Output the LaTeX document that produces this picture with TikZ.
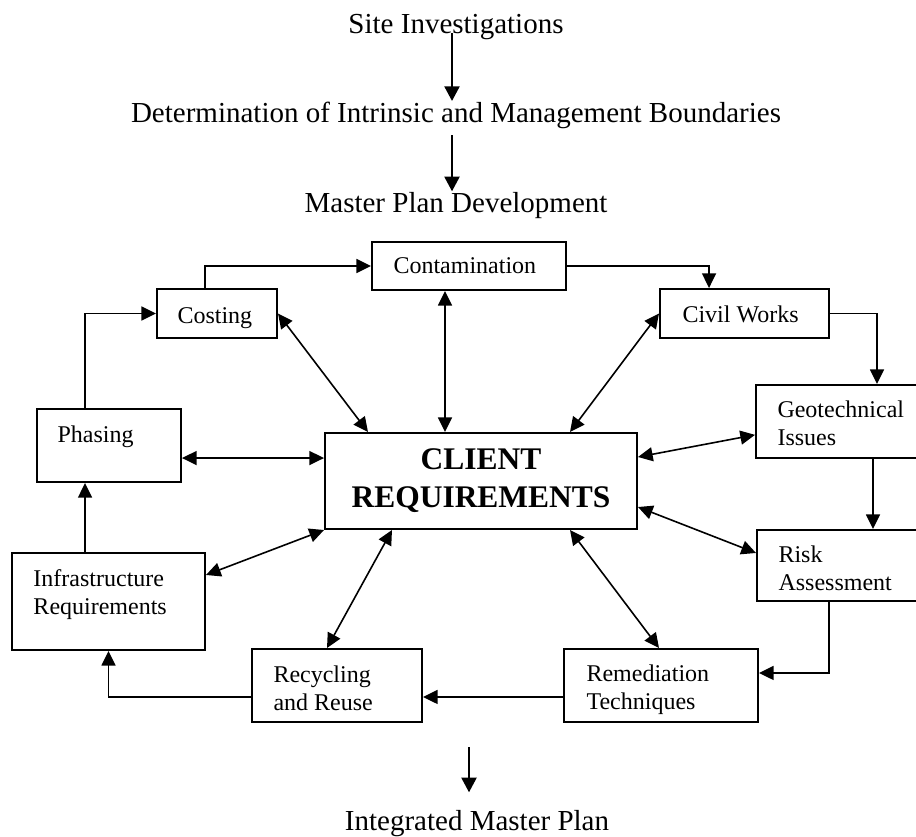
\documentclass[tikz,border=0pt]{standalone}
\usepackage{fontspec}
\setmainfont{Liberation Serif}
\usetikzlibrary{arrows.meta}

\tikzset{every picture/.style={line width=0.75pt}}
\tikzset{
  box/.style={draw, rectangle, line width=1.5pt, inner sep=0pt},
  boxtext/.style={inner sep=0pt, align=left, anchor=base west, font=\fontsize{18pt}{20.6pt}\selectfont},
  headtext/.style={inner sep=0pt, anchor=base, font=\fontsize{21.75pt}{26pt}\selectfont},
  flow/.style={line width=1.2pt, -{Triangle[length=11pt,width=10.5pt]}},
  link/.style={line width=1.2pt, {Triangle[length=11pt,width=10.5pt]}-{Triangle[length=11pt,width=10.5pt]}},
  bigarrow/.style={line width=2.2pt, -{Triangle[length=11pt,width=11pt]}},
}

\begin{document}
\begin{tikzpicture}[x=0.75pt,y=0.75pt,yscale=-1,xscale=1]
\useasboundingbox (0,0) rectangle (916,836);

% Text Node
\node[headtext] (site) at (456,33) {Site Investigations};
% Text Node
\node[headtext] (bound) at (456,122) {Determination of Intrinsic and Management Boundaries};
% Text Node
\node[headtext] (master) at (456,212) {Master Plan Development};
% Text Node
\node[headtext] (integ) at (477,830) {Integrated Master Plan};
\coordinate (outlet) at (469,747);

%Shape: Rectangle
\node[box, minimum width=90pt, minimum height=36.75pt] (cost) at (217,313.5) {};
%Shape: Rectangle
\node[box, minimum width=145.5pt, minimum height=36pt] (contam) at (469,266) {};
%Shape: Rectangle
\node[box, minimum width=126.75pt, minimum height=36.75pt] (civil) at (744.5,313.5) {};
%Shape: Rectangle
\node[box, minimum width=121.5pt, minimum height=54.75pt] (geo) at (837,421.5) {};
%Shape: Rectangle
\node[box, minimum width=120.75pt, minimum height=53.25pt] (risk) at (837.5,565.5) {};
%Shape: Rectangle
\node[box, minimum width=145.5pt, minimum height=54.75pt] (remed) at (661,685.5) {};
%Shape: Rectangle
\node[box, minimum width=127.5pt, minimum height=54.75pt] (recyc) at (337,685.5) {};
%Shape: Rectangle
\node[box, minimum width=144.75pt, minimum height=72.75pt] (infra) at (108.5,601.5) {};
%Shape: Rectangle
\node[box, minimum width=108pt, minimum height=54.75pt] (phase) at (109,445.5) {};
%Shape: Rectangle
\node[box, minimum width=234pt, minimum height=72pt, align=center,
  font=\fontsize{23.6pt}{28.5pt}\selectfont\bfseries] (client) at (481,481) {CLIENT\\REQUIREMENTS};

% Text Node
\node[boxtext] (costtxt) at (177,323) {Costing};
% Text Node
\node[boxtext] (contamtxt) at (393,273) {Contamination};
% Text Node
\node[boxtext] (civiltxt) at (682,322) {Civil Works};
% Text Node
\node[boxtext] (geotxt) at (777,445) {Geotechnical\\Issues};
% Text Node
\node[boxtext] (risktxt) at (778,590) {Risk\\Assessment};
% Text Node
\node[boxtext] (remedtxt) at (586,709) {Remediation\\Techniques};
% Text Node
\node[boxtext] (recyctxt) at (273,710) {Recycling\\and Reuse};
% Text Node
\node[boxtext] (infratxt) at (33,614) {Infrastructure\\Requirements};
% Text Node
\node[boxtext] (phasetxt) at (57,442) {Phasing};

%Straight Lines
\draw[bigarrow] ([xshift=-3pt]site.base) -- ([xshift=-3pt]bound.north);
\draw[bigarrow] ([xshift=-3pt,yshift=5pt]bound.south) -- ([xshift=-3pt]master.north);
\draw[bigarrow] (outlet) -- ([xshift=-6pt,yshift=-12.75pt]integ.north);

%Straight Lines
\draw[flow] ([xshift=-18pt]phase.north) |- (cost.west);
\draw[flow] ([xshift=-9pt]cost.north) |- (contam.west);
\draw[flow] (contam.east) -| ([xshift=-26.6pt]civil.north);
\draw[flow] (civil.east) -| ([xshift=30pt]geo.north);
\draw[flow] ([xshift=27pt]geo.south) -- ([xshift=27pt]geo.south |- risk.north);
\draw[flow] ([xshift=-6.4pt]risk.south) |- ([yshift=-9.4pt]remed.east);
\draw[flow] ([yshift=8.6pt]remed.west) -- ([yshift=8.6pt]recyc.east);
\draw[flow] ([yshift=8.6pt]recyc.west) -| (infra.south);
\draw[flow] ([xshift=-17.6pt]infra.north) -- ([xshift=-17.6pt]infra.north |- phase.south);

%Straight Lines
\draw[link] (cost.east) -- ([xshift=33pt]client.north west);
\draw[link] ([xshift=-18pt]contam.south) -- ([xshift=-18pt]contam.south |- client.north);
\draw[link] (civil.west) -- ([xshift=-51pt]client.north east);
\draw[link] ([yshift=9.4pt]phase.east) -- ([yshift=9.4pt]phase.east -| client.west);
\draw[link] ([yshift=10pt]geo.west) -- ([yshift=-18pt]client.east);
\draw[link] ([yshift=19.5pt]client.east) -- ([yshift=-9.4pt]risk.west);
\draw[link] (client.south west) -- ([yshift=-19.9pt]infra.east);
\draw[link] ([xshift=51pt]client.south west) -- ([xshift=-7.5pt]recyc.north);
\draw[link] ([xshift=-51pt]client.south east) -- ([xshift=-1.5pt]remed.north);

\end{tikzpicture}
\end{document}
